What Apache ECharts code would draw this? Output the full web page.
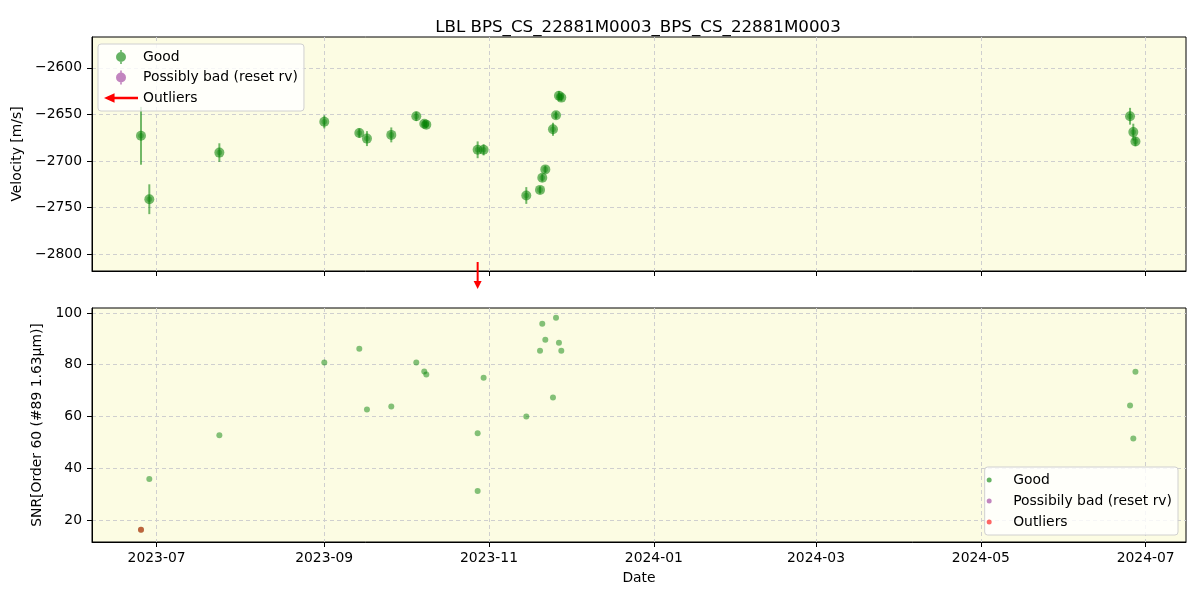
<!DOCTYPE html>
<html><head><meta charset="utf-8">
<script src="https://cdn.jsdelivr.net/npm/echarts@6/dist/echarts.min.js"></script>
<style>html,body{margin:0;padding:0;background:#fff}#c{width:1200px;height:600px}</style>
</head><body><div id="c"></div>
<script>
const titleText = 'LBL BPS_CS_22881M0003_BPS_CS_22881M0003';
const dates = ['2023-06-25T05:00:00','2023-06-28T07:00:00','2023-07-24T05:00:00','2023-09-01T01:00:00','2023-09-14T00:00:00','2023-09-16T20:00:00','2023-09-25T20:00:00','2023-10-05T02:00:00','2023-10-08T01:00:00','2023-10-08T19:00:00','2023-10-27T19:00:00','2023-10-30T00:00:00','2023-11-14T19:00:00','2023-11-19T21:00:00','2023-11-20T17:00:00','2023-11-21T20:00:00','2023-11-24T16:00:00','2023-11-25T19:00:00','2023-11-26T21:00:00','2023-11-27T18:00:00','2024-06-25T05:00:00','2024-06-26T10:00:00','2024-06-27T05:00:00'];
const velocity = [-2673,-2741,-2691,-2658,-2670,-2676,-2672,-2652,-2660,-2661,-2688,-2688,-2737,-2731,-2718,-2709,-2666,-2651,-2630,-2632,-2652,-2669,-2679];
const velocityErr = [31,16,10,7,5,8,8,5,4,4,9,6,9,4,4,4,7,4,5,4,9,9,5];
const snrDates = ['2023-06-28T07:00:00','2023-07-24T05:00:00','2023-09-01T01:00:00','2023-09-14T00:00:00','2023-09-16T20:00:00','2023-09-25T20:00:00','2023-10-05T02:00:00','2023-10-08T01:00:00','2023-10-08T19:00:00','2023-10-27T19:00:00','2023-10-27T19:00:00','2023-10-30T00:00:00','2023-11-14T19:00:00','2023-11-19T21:00:00','2023-11-20T17:00:00','2023-11-21T20:00:00','2023-11-24T16:00:00','2023-11-25T19:00:00','2023-11-26T21:00:00','2023-11-27T18:00:00','2024-06-25T05:00:00','2024-06-26T10:00:00','2024-06-27T05:00:00','2023-06-25T05:00:00'];
const snrValues = [35.8,52.7,80.8,86.2,62.7,63.8,80.8,77.4,76.2,53.5,31.2,75.0,60.0,85.4,95.8,89.6,67.3,98.1,88.5,85.4,64.2,51.5,77.3,16.2];
const outlierDates = ['2023-10-27T19:00:00'];
const outlierSnrDates = ['2023-06-25T05:00:00'];
const outlierSnrValues = [16.2];
const xTickLabels = ['2023-07','2023-09','2023-11','2024-01','2024-03','2024-05','2024-07'];
const velTicks = [-2800,-2750,-2700,-2650,-2600];
const snrTicks = [20,40,60,80,100];
const xRange = ['2023-06-07T02:00:00','2024-07-15T22:00:00'];
const velRange = [-2818, -2567];
const snrRange = [11.5, 101.9];

const FONT = 'DejaVu Sans';
const toMs = s => new Date(s).getTime();
const xTickMs = xTickLabels.map(l => toMs(l + '-01T00:00:00'));
const labelFor = v => { const i = xTickMs.indexOf(v); return i >= 0 ? xTickLabels[i] : ''; };
const minusFmt = v => String(v).replace('-', '\u2212');

const GREEN = 'rgba(0,128,0,0.6)';
const PURPLE = 'rgba(128,0,128,0.6)';
const RED_A = 'rgba(255,0,0,0.6)';
const BG = '#fcfce3';
const GRIDC = '#cfcfcf';

const errIcon = 'path://M4.2,0 L5.8,0 L5.8,14 L4.2,14 Z M10,7 A5,5 0 1,1 0,7 A5,5 0 1,1 10,7 Z';
const arrowIcon = 'path://M0,4 L9,0 L9,3 L29,3 L29,5 L9,5 L9,8 Z';

function xAxisCfg(gridIndex, showLabels) {
  return {
    type: 'value', gridIndex, min: toMs(xRange[0]), max: toMs(xRange[1]), scale: true,
    axisLine: { show: true, onZero: false, lineStyle: { color: '#000', width: 1 } },
    axisTick: { show: true, customValues: xTickMs, length: 5, lineStyle: { color: '#000' } },
    axisLabel: { show: showLabels, customValues: xTickMs, formatter: labelFor, margin: 9,
      fontFamily: FONT, fontSize: 13.9, color: '#000' },
    splitLine: { show: true, lineStyle: { color: GRIDC, type: [4, 3], width: 1 } },
    name: showLabels ? 'Date' : '', nameLocation: 'middle', nameGap: 29,
    nameTextStyle: { fontFamily: FONT, fontSize: 13.9, color: '#000' }
  };
}
function yAxisCfg(gridIndex, range, ticks, name, gap) {
  return {
    type: 'value', gridIndex, min: range[0], max: range[1], scale: true,
    axisLine: { show: true, onZero: false, lineStyle: { color: '#000', width: 1 } },
    axisTick: { show: true, customValues: ticks, length: 5, lineStyle: { color: '#000' } },
    axisLabel: { customValues: ticks, formatter: minusFmt, margin: 10,
      fontFamily: FONT, fontSize: 13.9, color: '#000' },
    splitLine: { show: true, lineStyle: { color: GRIDC, type: [4, 3], width: 1 } },
    name, nameLocation: 'middle', nameGap: gap,
    nameTextStyle: { fontFamily: FONT, fontSize: 13.9, color: '#000' }
  };
}

const chart = echarts.init(document.getElementById('c'), null, { renderer: 'canvas' });
chart.setOption({
  animation: false,
  backgroundColor: '#fff',
  title: { text: titleText, left: 633, textAlign: 'center', top: 14,
    textStyle: { fontFamily: FONT, fontSize: 16.7, fontWeight: 'normal', color: '#000' } },
  grid: [
    { left: 92, right: 14, top: 37, height: 234, show: true, backgroundColor: BG, borderColor: '#000', borderWidth: 1 },
    { left: 92, right: 14, top: 308, height: 234, show: true, backgroundColor: BG, borderColor: '#000', borderWidth: 1 }
  ],
  xAxis: [xAxisCfg(0, false), xAxisCfg(1, true)],
  yAxis: [
    yAxisCfg(0, velRange, velTicks, 'Velocity [m/s]', 60),
    yAxisCfg(1, snrRange, snrTicks, 'SNR[Order 60 (#89 1.63\u03bcm)]', 46)
  ],
  legend: [
    { orient: 'vertical', left: 98, top: 44, selectedMode: false,
      backgroundColor: 'rgba(255,255,255,0.8)', borderColor: '#d0d0d0', borderWidth: 1, borderRadius: 3,
      padding: [6, 6, 6, 6], itemGap: 6.5, itemWidth: 34, itemHeight: 14,
      textStyle: { fontFamily: FONT, fontSize: 13.9, color: '#000' },
      data: [
        { name: 'Good', icon: errIcon, itemStyle: { color: GREEN } },
        { name: 'Possibly bad (reset rv)', icon: errIcon, itemStyle: { color: PURPLE } },
        { name: 'Outliers', icon: arrowIcon, itemStyle: { color: 'red' } }
      ] },
    { orient: 'vertical', right: 22, bottom: 65, selectedMode: false,
      backgroundColor: 'rgba(255,255,255,0.8)', borderColor: '#d0d0d0', borderWidth: 1, borderRadius: 3,
      padding: [6, 6, 6, 2], itemGap: 7, itemWidth: 38, itemHeight: 5,
      textStyle: { fontFamily: FONT, fontSize: 13.9, color: '#000' },
      data: [
        { name: 'Good', icon: 'circle', itemStyle: { color: GREEN } },
        { name: 'Possibily bad (reset rv)', icon: 'circle', itemStyle: { color: PURPLE } },
        { name: 'Outliers', icon: 'circle', itemStyle: { color: RED_A } }
      ] }
  ],
  series: [
    { name: 'Good', type: 'custom', xAxisIndex: 0, yAxisIndex: 0, clip: false,
      encode: { x: 0, y: 1 },
      data: dates.map((d, i) => [toMs(d), velocity[i], velocityErr[i]]),
      renderItem: (params, api) => {
        const x = api.value(0), v = api.value(1), e = api.value(2);
        const c = api.coord([x, v]);
        const t = api.coord([x, v + e]);
        const b = api.coord([x, v - e]);
        return { type: 'group', children: [
          { type: 'line', shape: { x1: c[0], y1: t[1], x2: c[0], y2: b[1] }, style: { stroke: 'rgba(0,128,0,0.55)', lineWidth: 2 } },
          { type: 'circle', shape: { cx: c[0], cy: c[1], r: 5 }, style: { fill: 'rgba(0,128,0,0.55)' } },
          { type: 'circle', shape: { cx: c[0], cy: c[1], r: 2.8 }, style: { fill: 'rgba(0,128,0,0.35)' } }
        ] };
      } },
    { name: 'Possibly bad (reset rv)', type: 'scatter', xAxisIndex: 0, yAxisIndex: 0, data: [], itemStyle: { color: PURPLE } },
    { name: 'Outliers', type: 'custom', xAxisIndex: 0, yAxisIndex: 0, clip: false, z: 10,
      encode: { x: 0, y: 1 },
      data: outlierDates.map(d => [toMs(d), velRange[0]]),
      renderItem: (params, api) => {
        const p = api.coord([api.value(0), api.value(1)]);
        const x = p[0], y0 = p[1];
        return { type: 'group', children: [
          { type: 'line', shape: { x1: x, y1: y0 - 9, x2: x, y2: y0 + 11 }, style: { stroke: 'red', lineWidth: 2 } },
          { type: 'polygon', shape: { points: [[x - 4, y0 + 10], [x + 4, y0 + 10], [x, y0 + 18]] }, style: { fill: 'red' } }
        ] };
      } },
    { name: 'Good', type: 'scatter', xAxisIndex: 1, yAxisIndex: 1, symbolSize: 6,
      itemStyle: { color: GREEN },
      data: snrDates.map((d, i) => [toMs(d), snrValues[i]]) },
    { name: 'Possibily bad (reset rv)', type: 'scatter', xAxisIndex: 1, yAxisIndex: 1, data: [], itemStyle: { color: PURPLE } },
    { name: 'Outliers', type: 'scatter', xAxisIndex: 1, yAxisIndex: 1, symbolSize: 6, z: 5,
      itemStyle: { color: RED_A },
      data: outlierSnrDates.map((d, i) => [toMs(d), outlierSnrValues[i]]) }
  ]
});
</script></body></html>
